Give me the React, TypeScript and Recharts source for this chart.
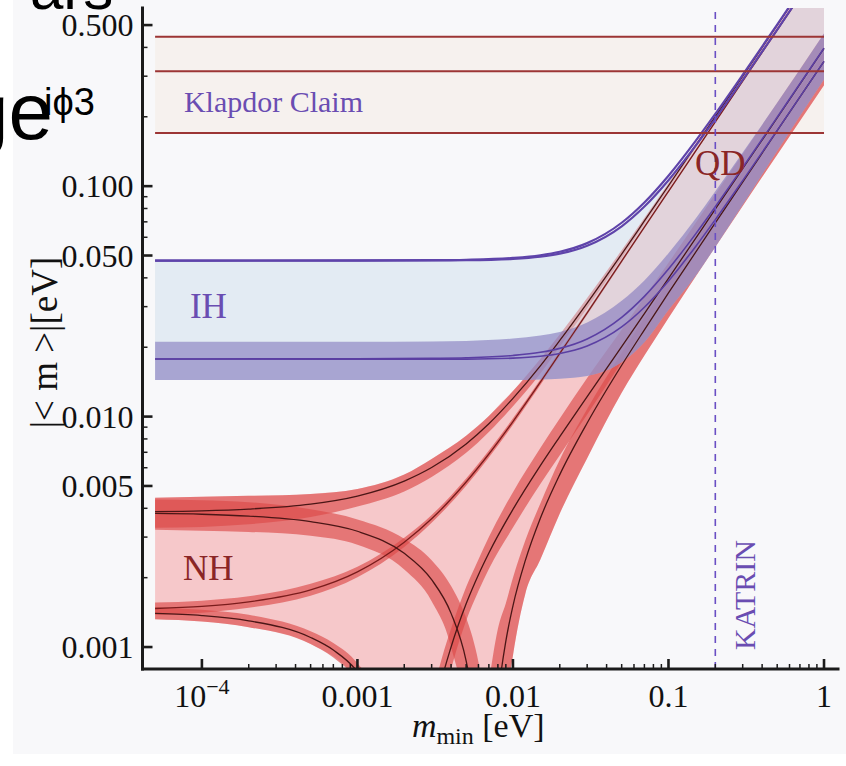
import React from 'react';
import { ComposedChart, Area, Line, XAxis, YAxis, ReferenceLine, ReferenceDot } from 'recharts';

// lightest neutrino mass m_min (eV) grids and |<m>| values (eV)
const mNH = [5e-5, 1e-4, 2e-4, 5e-4, 1e-3, 2e-3, 3e-3, 5e-3, 7e-3, 0.01, 0.015, 0.02, 0.03, 0.05, 0.07, 0.1, 0.2, 0.3, 0.5, 1];
const nhTop = [0.00387, 0.0039, 0.00397, 0.00417, 0.00452, 0.00525, 0.00601, 0.00761, 0.00931, 0.012, 0.0166, 0.0214, 0.0311, 0.0507, 0.0706, 0.1004, 0.2003, 0.3003, 0.5003, 1.0005];
const nhTopLo = [0.00329, 0.00332, 0.00341, 0.00367, 0.00407, 0.00473, 0.00547, 0.00696, 0.00857, 0.0111, 0.0154, 0.0201, 0.0295, 0.0487, 0.0685, 0.0975, 0.197, 0.296, 0.495, 0.99];
const nhTopHi = [0.00445, 0.00449, 0.00453, 0.00462, 0.00485, 0.0056, 0.00655, 0.00826, 0.01005, 0.0129, 0.0178, 0.0227, 0.0327, 0.0527, 0.0727, 0.103, 0.203, 0.304, 0.505, 1.01];
const nhMid = [0.00147, 0.0015, 0.00157, 0.00177, 0.00212, 0.00285, 0.0036, 0.0052, 0.00688, 0.00952, 0.0141, 0.0188, 0.0282, 0.0473, 0.0664, 0.095, 0.1902, 0.2854, 0.4757, 0.9515];
const nhMidLo = [0.00138, 0.00141, 0.00148, 0.00167, 0.00201, 0.00272, 0.00346, 0.00501, 0.00664, 0.00921, 0.0137, 0.0183, 0.0276, 0.0464, 0.0653, 0.0935, 0.1875, 0.2815, 0.469, 0.937];
const nhMidHi = [0.00156, 0.00159, 0.00166, 0.00188, 0.00223, 0.00298, 0.00374, 0.00539, 0.00712, 0.00983, 0.0145, 0.0193, 0.0288, 0.0482, 0.0675, 0.0965, 0.1925, 0.289, 0.483, 0.966];

// branch that falls from ~0.0038 to zero near 0.007 eV
const mFallA = [5e-5, 1e-4, 2e-4, 5e-4, 1e-3, 2e-3, 3e-3, 4e-3, 5e-3, 5.5e-3, 6e-3, 6.5e-3];
const fallA = [0.0038, 0.00377, 0.0037, 0.0035, 0.00318, 0.00255, 0.00196, 0.0014, 0.00087, 0.00061, 0.00036, 0.00011];
const fallALo = [0.00323, 0.0032, 0.00316, 0.00304, 0.00278, 0.00217, 0.00158, 0.001, 0.00045, 0.0002, 0.00007, 0.00002];
const fallAHi = [0.00437, 0.00433, 0.00425, 0.00396, 0.00358, 0.00295, 0.00238, 0.00184, 0.00134, 0.0011, 0.00086, 0.00062];

// branch that falls from ~0.0014 to zero near 0.002 eV
const mFallB = [5e-5, 1e-4, 2e-4, 5e-4, 7e-4, 1e-3, 1.5e-3, 2e-3];
const fallB = [0.0014, 0.00137, 0.0013, 0.0011, 0.00097, 0.00078, 0.00046, 0.00015];
const fallBLo = [0.00132, 0.00129, 0.00122, 0.00103, 0.0009, 0.00071, 0.0004, 0.0001];
const fallBHi = [0.00149, 0.00145, 0.00138, 0.00117, 0.00104, 0.00085, 0.00053, 0.0002];

// rising branches after the cancellations
const mRiseB = [2.5e-3, 3e-3, 3.5e-3, 4e-3, 5e-3, 6e-3, 7e-3, 0.01, 0.015, 0.02, 0.03, 0.05, 0.07, 0.1, 0.2, 0.3, 0.5, 1];
const riseB = [0.00015, 0.00044, 0.00073, 0.001, 0.00154, 0.00206, 0.00256, 0.00396, 0.00613, 0.00819, 0.0122, 0.0201, 0.028, 0.0398, 0.0794, 0.119, 0.198, 0.3965];
const riseBLo = [0.00003, 0.00028, 0.00055, 0.0008, 0.0013, 0.00175, 0.00218, 0.0033, 0.0051, 0.0068, 0.0102, 0.0172, 0.0243, 0.0352, 0.0711, 0.107, 0.179, 0.358];
const riseBHi = [0.00035, 0.0006, 0.0009, 0.0012, 0.00182, 0.0024, 0.003, 0.0047, 0.0073, 0.0098, 0.0147, 0.0238, 0.033, 0.0465, 0.0925, 0.138, 0.23, 0.46];

const mRiseA = [7e-3, 7.5e-3, 8e-3, 9e-3, 0.01, 0.012, 0.015, 0.02, 0.03, 0.05, 0.07, 0.1, 0.2, 0.3, 0.5, 1];
const riseA = [0.00013, 0.00037, 0.0006, 0.00106, 0.00151, 0.00237, 0.00362, 0.0056, 0.00938, 0.0167, 0.0238, 0.0344, 0.0693, 0.104, 0.174, 0.3475];
const riseALo = [0.00001, 0.00005, 0.0002, 0.00055, 0.00092, 0.0017, 0.0024, 0.0038, 0.0066, 0.0127, 0.0184, 0.0268, 0.0545, 0.082, 0.137, 0.274];
const riseAHi = [0.0007, 0.00095, 0.0012, 0.00155, 0.002, 0.0029, 0.0042, 0.0065, 0.0108, 0.0189, 0.0268, 0.0385, 0.077, 0.115, 0.192, 0.383];

// whole NH allowed region
const mNHRegion = [5e-5, 1e-4, 2e-4, 5e-4, 1e-3, 1.5e-3, 2e-3, 3e-3, 5e-3, 7e-3, 8e-3, 9e-3, 0.01, 0.012, 0.015, 0.02, 0.03, 0.05, 0.07, 0.1, 0.2, 0.3, 0.5, 1];
const nhRegionLo = [0.00132, 0.00129, 0.00122, 0.00103, 0.00071, 0.0004, 0.0001, 0.00001, 0.00001, 0.00001, 0.0002, 0.00055, 0.00092, 0.0017, 0.0024, 0.0038, 0.0066, 0.0127, 0.0184, 0.0268, 0.0545, 0.082, 0.137, 0.274];
const nhRegionHi = [0.00445, 0.00449, 0.00453, 0.00462, 0.00485, 0.0052, 0.0056, 0.00655, 0.00826, 0.01005, 0.0111, 0.012, 0.0129, 0.0149, 0.0178, 0.0227, 0.0327, 0.0527, 0.0727, 0.103, 0.203, 0.304, 0.505, 1.01];

// inverted hierarchy
const mIH = [5e-5, 1e-4, 1e-3, 3e-3, 5e-3, 0.01, 0.015, 0.02, 0.03, 0.05, 0.07, 0.1, 0.15, 0.2, 0.3, 0.5, 1];
const ihUpPlus = [0.04756, 0.04756, 0.04759, 0.04772, 0.04793, 0.0488, 0.05013, 0.0519, 0.05659, 0.06937, 0.08496, 0.111, 0.1576, 0.2058, 0.304, 0.5026, 1.0017];
const ihUpMinus = [0.04756, 0.04756, 0.04755, 0.04758, 0.04769, 0.04831, 0.04939, 0.05092, 0.05512, 0.06692, 0.08154, 0.1061, 0.1502, 0.196, 0.2893, 0.4781, 0.9527];
const ihLowPlus = [0.01779, 0.01779, 0.01781, 0.0179, 0.018, 0.01842, 0.01901, 0.01977, 0.02173, 0.02696, 0.03325, 0.04368, 0.06224, 0.08139, 0.1204, 0.1991, 0.3969];
const ihLowMinus = [0.01778, 0.01778, 0.01776, 0.01775, 0.01776, 0.01793, 0.01827, 0.01879, 0.02026, 0.02451, 0.02982, 0.03878, 0.05489, 0.07159, 0.1057, 0.1746, 0.3479];
const ihBandLo = [0.0144, 0.0144, 0.0144, 0.0144, 0.0144, 0.0144, 0.0145, 0.0146, 0.015, 0.0172, 0.021, 0.029, 0.041, 0.0545, 0.083, 0.142, 0.29];
const ihBandHi = [0.0211, 0.0211, 0.0211, 0.0212, 0.0213, 0.0218, 0.0225, 0.0233, 0.0256, 0.0318, 0.039, 0.0512, 0.0725, 0.095, 0.14, 0.23, 0.46];

// Klapdor claim band and KATRIN sensitivity
const klapdorM = [5e-5, 1];
const klapdorLevels = [0.17, 0.315, 0.445];
const katrinM = 0.2;

// axes
const xMajor = [1e-4, 1e-3, 1e-2, 0.1, 1];
const xMajorText = ['10', '0.001', '0.01', '0.1', '1'];
const xMajorExp = ['\u22124', '', '', '', ''];
const xMinor = [2e-4, 3e-4, 4e-4, 5e-4, 6e-4, 7e-4, 8e-4, 9e-4, 2e-3, 3e-3, 4e-3, 5e-3, 6e-3, 7e-3, 8e-3, 9e-3, 0.02, 0.03, 0.04, 0.05, 0.06, 0.07, 0.08, 0.09, 0.2, 0.3, 0.4, 0.5, 0.6, 0.7, 0.8, 0.9];
const yMajor = [0.001, 0.005, 0.01, 0.05, 0.1, 0.5];
const yMajorText = ['0.001', '0.005', '0.010', '0.050', '0.100', '0.500'];
const yMinor = [0.002, 0.003, 0.004, 0.006, 0.007, 0.008, 0.009, 0.02, 0.03, 0.04, 0.06, 0.07, 0.08, 0.09, 0.2, 0.3, 0.4];
const xDomain = [4.15e-5, 1.23];
const yDomain = [0.000803, 0.593];

const SERIF = '"Liberation Serif", "Times New Roman", Times, serif';
const SANS = '"Liberation Sans", Arial, Helvetica, sans-serif';
const INK = '#1b1b1b';
const PURPLE = '#6a4db2';
const BROWN = '#8a2626';
const BAND_RED = '#dc4a48';
const CORE = '#4a1616';

const pts = (ms: number[], vs: number[]) => ms.map((m, i) => ({ m, v: vs[i] }));
const rng = (ms: number[], lo: number[], hi: number[]) => ms.map((m, i) => ({ m, r: [lo[i], hi[i]] }));

const inPlot = [
  { text: 'Klapdor Claim', m: 7.66e-5, v: 0.2094, color: PURPLE, size: 30, rotate: false },
  { text: 'IH', m: 8.37e-5, v: 0.02675, color: PURPLE, size: 35, rotate: false },
  { text: 'NH', m: 7.55e-5, v: 0.00195, color: BROWN, size: 35, rotate: false },
  { text: 'QD', m: 0.148, v: 0.1116, color: BROWN, size: 35, rotate: false },
  { text: 'KATRIN', m: 0.36, v: 0.00097, color: PURPLE, size: 30, rotate: true },
];

function tickLine(x1: number, y1: number, x2: number, y2: number, major: boolean) {
  return <line x1={x1} y1={y1} x2={x2} y2={y2} stroke={INK} strokeWidth={major ? 2.6 : 1.5} />;
}

function BottomTick(props: any) {
  const { x, y, payload } = props;
  const i = xMajor.indexOf(payload.value);
  const major = i >= 0;
  return (
    <g>
      {tickLine(x, y, x, y - (major ? 10 : 5), major)}
      {major && (
        <text x={x} y={y + 38} textAnchor="middle" fontFamily={SERIF} fontSize={32} fill="#111">
          {xMajorText[i]}
          {xMajorExp[i] && (
            <tspan dy={-13} fontSize={22}>
              {xMajorExp[i]}
            </tspan>
          )}
        </text>
      )}
    </g>
  );
}

function TopTick(props: any) {
  const { x, y, payload } = props;
  const major = xMajor.indexOf(payload.value) >= 0;
  return <g>{tickLine(x, y, x, y + (major ? 10 : 5), major)}</g>;
}

function LeftTick(props: any) {
  const { x, y, payload } = props;
  const i = yMajor.indexOf(payload.value);
  const major = i >= 0;
  return (
    <g>
      {tickLine(x, y, x + (major ? 10 : 5), y, major)}
      {major && (
        <text x={x - 9} y={y + 11} textAnchor="end" fontFamily={SERIF} fontSize={32} fill="#111">
          {yMajorText[i]}
        </text>
      )}
    </g>
  );
}

function RightTick(props: any) {
  const { x, y, payload } = props;
  const major = yMajor.indexOf(payload.value) >= 0;
  return <g>{tickLine(x, y, x - (major ? 10 : 5), y, major)}</g>;
}

function XTitle(props: any) {
  const vb = props.viewBox || { x: 142.5, y: 669, width: 695.5, height: 97 };
  return (
    <text x={vb.x + vb.width / 2 - 12} y={vb.y + 68} textAnchor="middle" fontFamily={SERIF} fontSize={34} fill="#111">
      <tspan fontStyle="italic">m</tspan>
      <tspan fontSize={24} dy={7}>min</tspan>
      <tspan fontSize={34} dy={-7}> [eV]</tspan>
    </text>
  );
}

function YTitle(props: any) {
  const vb = props.viewBox || { x: 0, y: 8, width: 142.5, height: 661 };
  const cx = vb.x + 44;
  const cy = vb.y + vb.height / 2 + 4;
  return (
    <text x={cx} y={cy} transform={`rotate(-90 ${cx} ${cy})`} textAnchor="middle" dominantBaseline="central" fontFamily={SERIF} fontSize={37} fill="#111">
      |&lt; m &gt;|[eV]
    </text>
  );
}

const frame = { stroke: INK, strokeWidth: 3, strokeLinecap: 'square' as const };

export default function App() {
  const bandProps = { type: 'monotone' as const, stroke: 'none', isAnimationActive: false, dot: false, activeDot: false, dataKey: 'r' };
  const lineProps = { type: 'monotone' as const, isAnimationActive: false, dot: false, activeDot: false, dataKey: 'v' };
  return (
    <div style={{ position: 'absolute', left: 0, top: 0, width: 846, height: 766, background: '#ffffff', overflow: 'hidden' }}>
      <style>{'html, body { margin: 0; overflow: hidden; }'}</style>
      <div style={{ position: 'absolute', left: 13, top: 0, width: 833, height: 754, background: '#f8f8fa' }} />
      <div style={{ position: 'absolute', left: 0, top: 0 }}>
        <ComposedChart width={846} height={766} margin={{ top: 8, right: 8, bottom: 0, left: 0 }}>
          <XAxis dataKey="m" type="number" scale="log" domain={xDomain} allowDataOverflow ticks={[...xMajor, ...xMinor]} interval={0}
            height={97} tickSize={0} tickMargin={0} tickLine={false} axisLine={frame} tick={<BottomTick />} label={XTitle} />
          <XAxis xAxisId="top" orientation="top" dataKey="m" type="number" scale="log" domain={xDomain} allowDataOverflow ticks={[...xMajor, ...xMinor]} interval={0}
            height={0} tickSize={0} tickMargin={0} tickLine={false} axisLine={frame} tick={<TopTick />} />
          <YAxis type="number" scale="log" domain={yDomain} allowDataOverflow ticks={[...yMajor, ...yMinor]} interval={0}
            width={142.5} tickSize={0} tickMargin={0} tickLine={false} axisLine={frame} tick={<LeftTick />} label={YTitle} />
          <YAxis yAxisId="right" orientation="right" type="number" scale="log" domain={yDomain} allowDataOverflow ticks={[...yMajor, ...yMinor]} interval={0}
            width={0} tickSize={0} tickMargin={0} tickLine={false} axisLine={frame} tick={<RightTick />} />

          {/* Klapdor band */}
          <Area {...bandProps} type="linear" data={rng(klapdorM, [klapdorLevels[0], klapdorLevels[0]], [klapdorLevels[2], klapdorLevels[2]])} fill="#f6f1ee" fillOpacity={1} />

          {/* NH region and 3 sigma bands */}
          <Area {...bandProps} data={rng(mNHRegion, nhRegionLo, nhRegionHi)} fill="#f6c8ca" fillOpacity={1} />
          <Area {...bandProps} data={rng(mFallB, fallBLo, fallBHi)} fill={BAND_RED} fillOpacity={0.65} />
          <Area {...bandProps} data={rng(mFallA, fallALo, fallAHi)} fill={BAND_RED} fillOpacity={0.65} />
          <Area {...bandProps} data={rng(mRiseB, riseBLo, riseBHi)} fill={BAND_RED} fillOpacity={0.65} />
          <Area {...bandProps} data={rng(mRiseA, riseALo, riseAHi)} fill={BAND_RED} fillOpacity={0.65} />
          <Area {...bandProps} data={rng(mNH, nhTopLo, nhTopHi)} fill={BAND_RED} fillOpacity={0.65} />
          <Area {...bandProps} data={rng(mNH, nhMidLo, nhMidHi)} fill={BAND_RED} fillOpacity={0.65} />

          {/* IH region */}
          <Area {...bandProps} data={rng(mIH, ihBandLo, ihUpMinus)} fill="#cedeec" fillOpacity={0.5} />
          <Area {...bandProps} data={rng(mIH, ihBandLo, ihBandHi)} fill="#8176bc" fillOpacity={0.6} />

          {/* NH central curves */}
          <Line {...lineProps} data={pts(mNH, nhTop)} stroke={CORE} strokeWidth={1.3} />
          <Line {...lineProps} data={pts(mNH, nhMid)} stroke="#7a1c1c" strokeWidth={1.3} />
          <Line {...lineProps} data={pts(mFallA, fallA)} stroke={CORE} strokeWidth={1.3} />
          <Line {...lineProps} data={pts(mFallB, fallB)} stroke={CORE} strokeWidth={1.3} />
          <Line {...lineProps} data={pts(mRiseA, riseA)} stroke={CORE} strokeWidth={1.3} />
          <Line {...lineProps} data={pts(mRiseB, riseB)} stroke={CORE} strokeWidth={1.3} />

          {/* IH curves */}
          <Line {...lineProps} data={pts(mIH, ihUpPlus)} stroke="#5f44aa" strokeWidth={2.2} />
          <Line {...lineProps} data={pts(mIH, ihUpMinus)} stroke="#5f44aa" strokeWidth={2.2} />
          <Line {...lineProps} data={pts(mIH, ihLowPlus)} stroke="#5b3fa3" strokeWidth={1.6} />
          <Line {...lineProps} data={pts(mIH, ihLowMinus)} stroke="#5b3fa3" strokeWidth={1.6} />

          {/* Klapdor lines */}
          {klapdorLevels.map((lv) => (
            <Line key={lv} {...lineProps} type="linear" data={pts(klapdorM, [lv, lv])} stroke="#9c3535" strokeWidth={2} />
          ))}

          <ReferenceLine x={katrinM} stroke="#6a4fc4" strokeWidth={1.6} strokeDasharray="7 6" />

          {inPlot.map((t) => (
            <ReferenceDot key={t.text} x={t.m} y={t.v} r={0}
              shape={(p: any) => (
                <text x={p.cx} y={p.cy} transform={t.rotate ? `rotate(-90 ${p.cx} ${p.cy})` : undefined}
                  fontFamily={SERIF} fontSize={t.size} fill={t.color}>
                  {t.text}
                </text>
              )} />
          ))}
        </ComposedChart>
      </div>
      <svg width={846} height={766} style={{ position: 'absolute', left: 0, top: 0, pointerEvents: 'none' }}>
        <text x={30} y={9} fontFamily={SANS} fontSize={60} fill="#000">ars</text>
        <text x={-36} y={139} fontFamily={SANS} fontSize={80} fill="#000">ge</text>
        <text x={44} y={115} fontFamily={SANS} fontSize={38} fill="#000">i{'\u03D5'}3</text>
      </svg>
    </div>
  );
}
